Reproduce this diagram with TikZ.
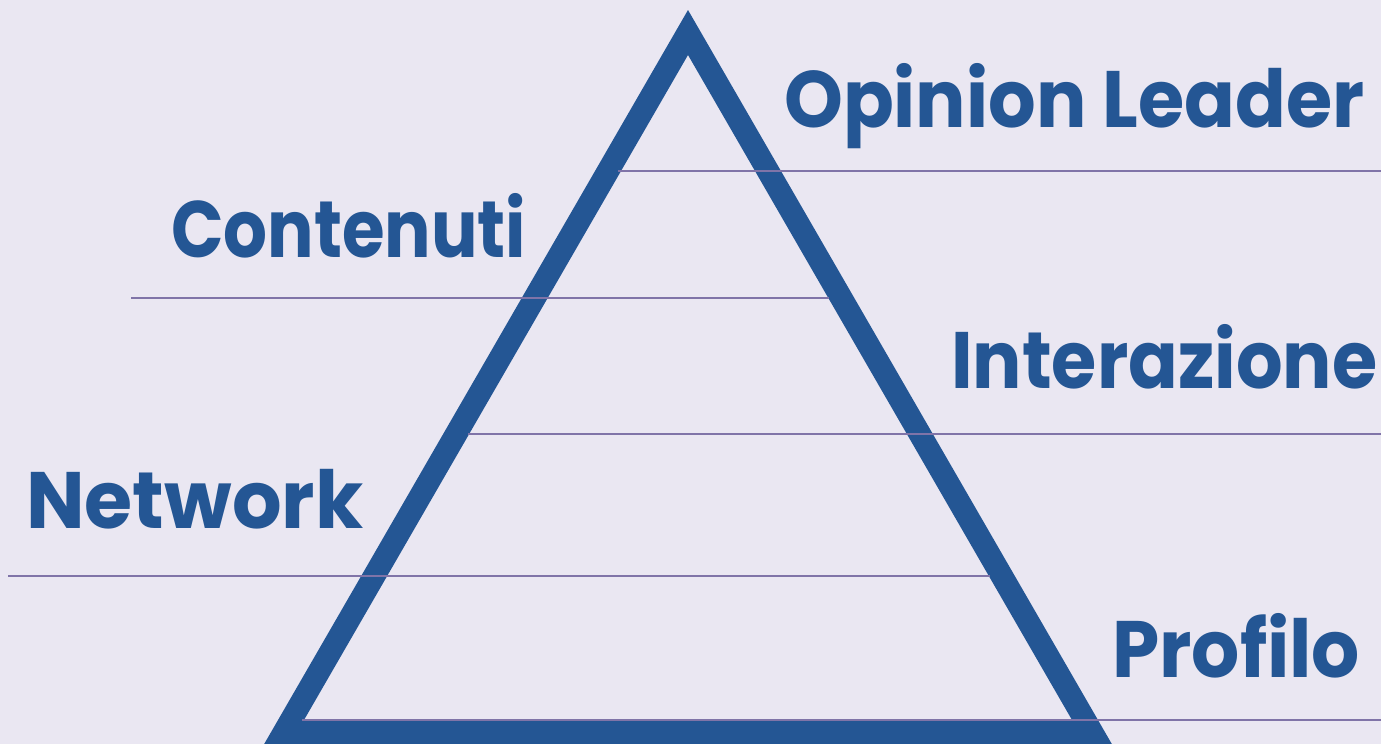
\documentclass[tikz,border=0pt]{standalone}
\usepackage{fontspec}
\usepackage{graphicx}
\setmainfont{Poppins}
\definecolor{bgc}{HTML}{EAE7F2}
\definecolor{pyr}{HTML}{245694}
\definecolor{rule}{HTML}{8074A8}
\newcommand{\fitw}[2]{\resizebox{#1}{\height}{#2}}
\tikzset{
  lbl/.style={anchor=base west, inner sep=0pt, text=pyr, font=\fontsize{80}{80}\selectfont\bfseries},
  tier/.style={draw=rule, line width=2pt}
}
\begin{document}
\begin{tikzpicture}[x=1pt,y=-1pt]
\useasboundingbox (0,0) rectangle (1381,744);
\clip (0,0) rectangle (1381,744);
\fill[bgc] (0,0) rectangle (1381,744);
% pyramid outline
\fill[pyr, even odd rule] (688,10) -- (263.6,745) -- (1112.4,745) -- cycle
  (688,55) -- (304,720) -- (1072,720) -- cycle;
% tier lines
\coordinate (a1) at (618,171);  \coordinate (a2) at (1381,171);
\coordinate (b1) at (131,298);  \coordinate (b2) at (829,298);
\coordinate (c1) at (468,434);  \coordinate (c2) at (1381,434);
\coordinate (d1) at (8,576);    \coordinate (d2) at (990,576);
\coordinate (e1) at (302,720);  \coordinate (e2) at (1381,720);
\draw[tier] (a1) -- (a2);
\draw[tier] (b1) -- (b2);
\draw[tier] (c1) -- (c2);
\draw[tier] (d1) -- (d2);
\draw[tier] (e1) -- (e2);
% labels
\node[lbl] (op) at (784,127) {\fitw{580pt}{Opinion Leader}};
\node[lbl] (co) at (171,257) {\fitw{355pt}{Contenuti}};
\node[lbl] (in) at (951,388) {\fitw{426pt}{Interazione}};
\node[lbl] (ne) at (26,528) {\fitw{337pt}{Network}};
\node[lbl] (pr) at (1112,677) {\fitw{248pt}{Profilo}};
\end{tikzpicture}
\end{document}
